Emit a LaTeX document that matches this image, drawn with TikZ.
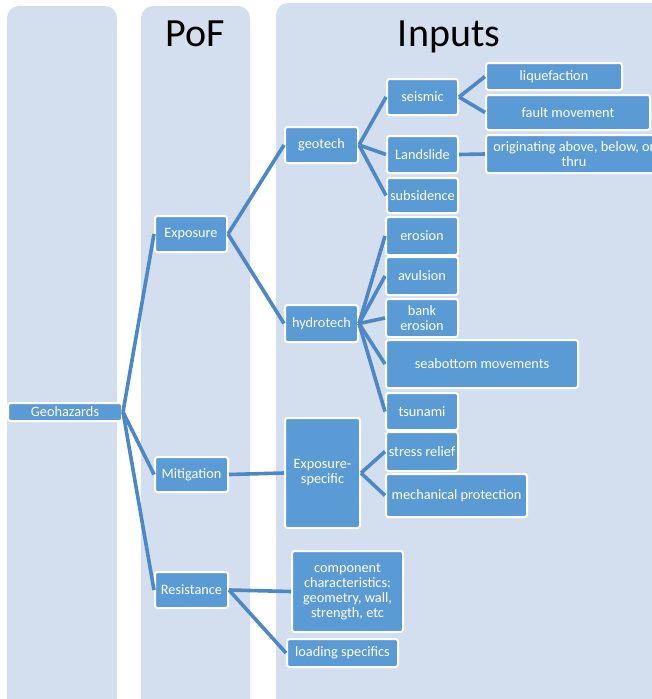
\documentclass[tikz,border=0pt]{standalone}
\usepackage{fontspec}
\setmainfont{Carlito}
\definecolor{colbg}{RGB}{211,222,239}
\definecolor{boxfill}{RGB}{91,155,213}
\definecolor{linkc}{RGB}{76,136,198}
\tikzset{
  column/.style={fill=colbg, rounded corners=12pt},
  bx/.style={draw=white, line width=2pt, fill=boxfill, rounded corners=2.5pt,
    text=white, inner sep=0pt, align=center,
    font=\fontsize{14.3}{15}\selectfont},
  link/.style={draw=linkc, line width=3.6pt},
  heading/.style={font=\fontsize{40}{42}\selectfont, text=black, anchor=base}
}
\begin{document}
\begin{tikzpicture}[x=1pt,y=-1pt]
\useasboundingbox (0,0) rectangle (652,699);
% background columns
\fill[column] (7,6) rectangle (117,712);
\fill[column] (141,6) rectangle (250,712);
\fill[column] (276,3) rectangle (680,712);
\node[heading] (tpof) at (195.5,46) {PoF};
\node[heading] (tinp) at (449,46) {Inputs};
% level 1
\node[bx, minimum width=114, minimum height=18] (geo) at (65,412) {Geohazards};
% level 2
\node[bx, minimum width=72, minimum height=36] (exp) at (191,234) {Exposure};
\node[bx, minimum width=73, minimum height=35] (mit) at (191.5,474.5) {Mitigation};
\node[bx, minimum width=73, minimum height=36] (res) at (191.5,590) {Resistance};
% level 3
\node[bx, minimum width=73, minimum height=36] (geotech) at (321.5,145) {geotech};
\node[bx, minimum width=73, minimum height=37] (hydro) at (321.5,323.5) {hydrotech};
\node[bx, minimum width=75, minimum height=110] (exspec) at (322.5,473) {Exposure-\\specific};
\node[bx, minimum width=111, minimum height=81] (comp) at (347.5,591.5) {component\\characteristics:\\geometry, wall,\\strength, etc};
\node[bx, minimum width=111, minimum height=28] (load) at (342.5,653) {loading specifics};
% level 4
\node[bx, minimum width=71, minimum height=36] (seis) at (422.5,97) {seismic};
\node[bx, minimum width=71, minimum height=37] (lands) at (422.5,154.5) {Landslide};
\node[bx, minimum width=71, minimum height=35] (subs) at (422.5,195.5) {subsidence};
\node[bx, minimum width=72, minimum height=38] (eros) at (422,236) {erosion};
\node[bx, minimum width=72, minimum height=38] (avul) at (422,276) {avulsion};
\node[bx, minimum width=72, minimum height=38] (bank) at (422,318) {bank\\erosion};
\node[bx, minimum width=192, minimum height=48] (seab) at (482,364) {seabottom movements};
\node[bx, minimum width=72, minimum height=37] (tsun) at (422,411.5) {tsunami};
\node[bx, minimum width=72, minimum height=39] (stress) at (422,451.5) {stress relief};
\node[bx, minimum width=141, minimum height=43] (mech) at (456.5,495.5) {mechanical protection};
% level 5
\node[bx, minimum width=136, minimum height=27] (liq) at (554,76.5) {liquefaction};
\node[bx, minimum width=164, minimum height=35] (fault) at (568,112.5) {fault movement};
\node[bx, minimum width=176, minimum height=38] (orig) at (574,154) {originating above, below, or\\thru};
% connectors
\draw[link] (geo.east) -- (exp.west);
\draw[link] (geo.east) -- (mit.west);
\draw[link] (geo.east) -- (res.west);
\draw[link] (exp.east) -- (geotech.west);
\draw[link] (exp.east) -- (hydro.west);
\draw[link] (geotech.east) -- (seis.west);
\draw[link] (geotech.east) -- (lands.west);
\draw[link] (geotech.east) -- (subs.west);
\draw[link] (seis.east) -- (liq.west);
\draw[link] (seis.east) -- (fault.west);
\draw[link] (lands.east) -- (orig.west);
\draw[link] (hydro.east) -- (eros.west);
\draw[link] (hydro.east) -- (avul.west);
\draw[link] (hydro.east) -- (bank.west);
\draw[link] (hydro.east) -- (seab.west);
\draw[link] (hydro.east) -- (tsun.west);
\draw[link] (mit.east) -- (exspec.west);
\draw[link] (exspec.east) -- (stress.west);
\draw[link] (exspec.east) -- (mech.west);
\draw[link] (res.east) -- (comp.west);
\draw[link] (res.east) -- (load.west);
\end{tikzpicture}
\end{document}
